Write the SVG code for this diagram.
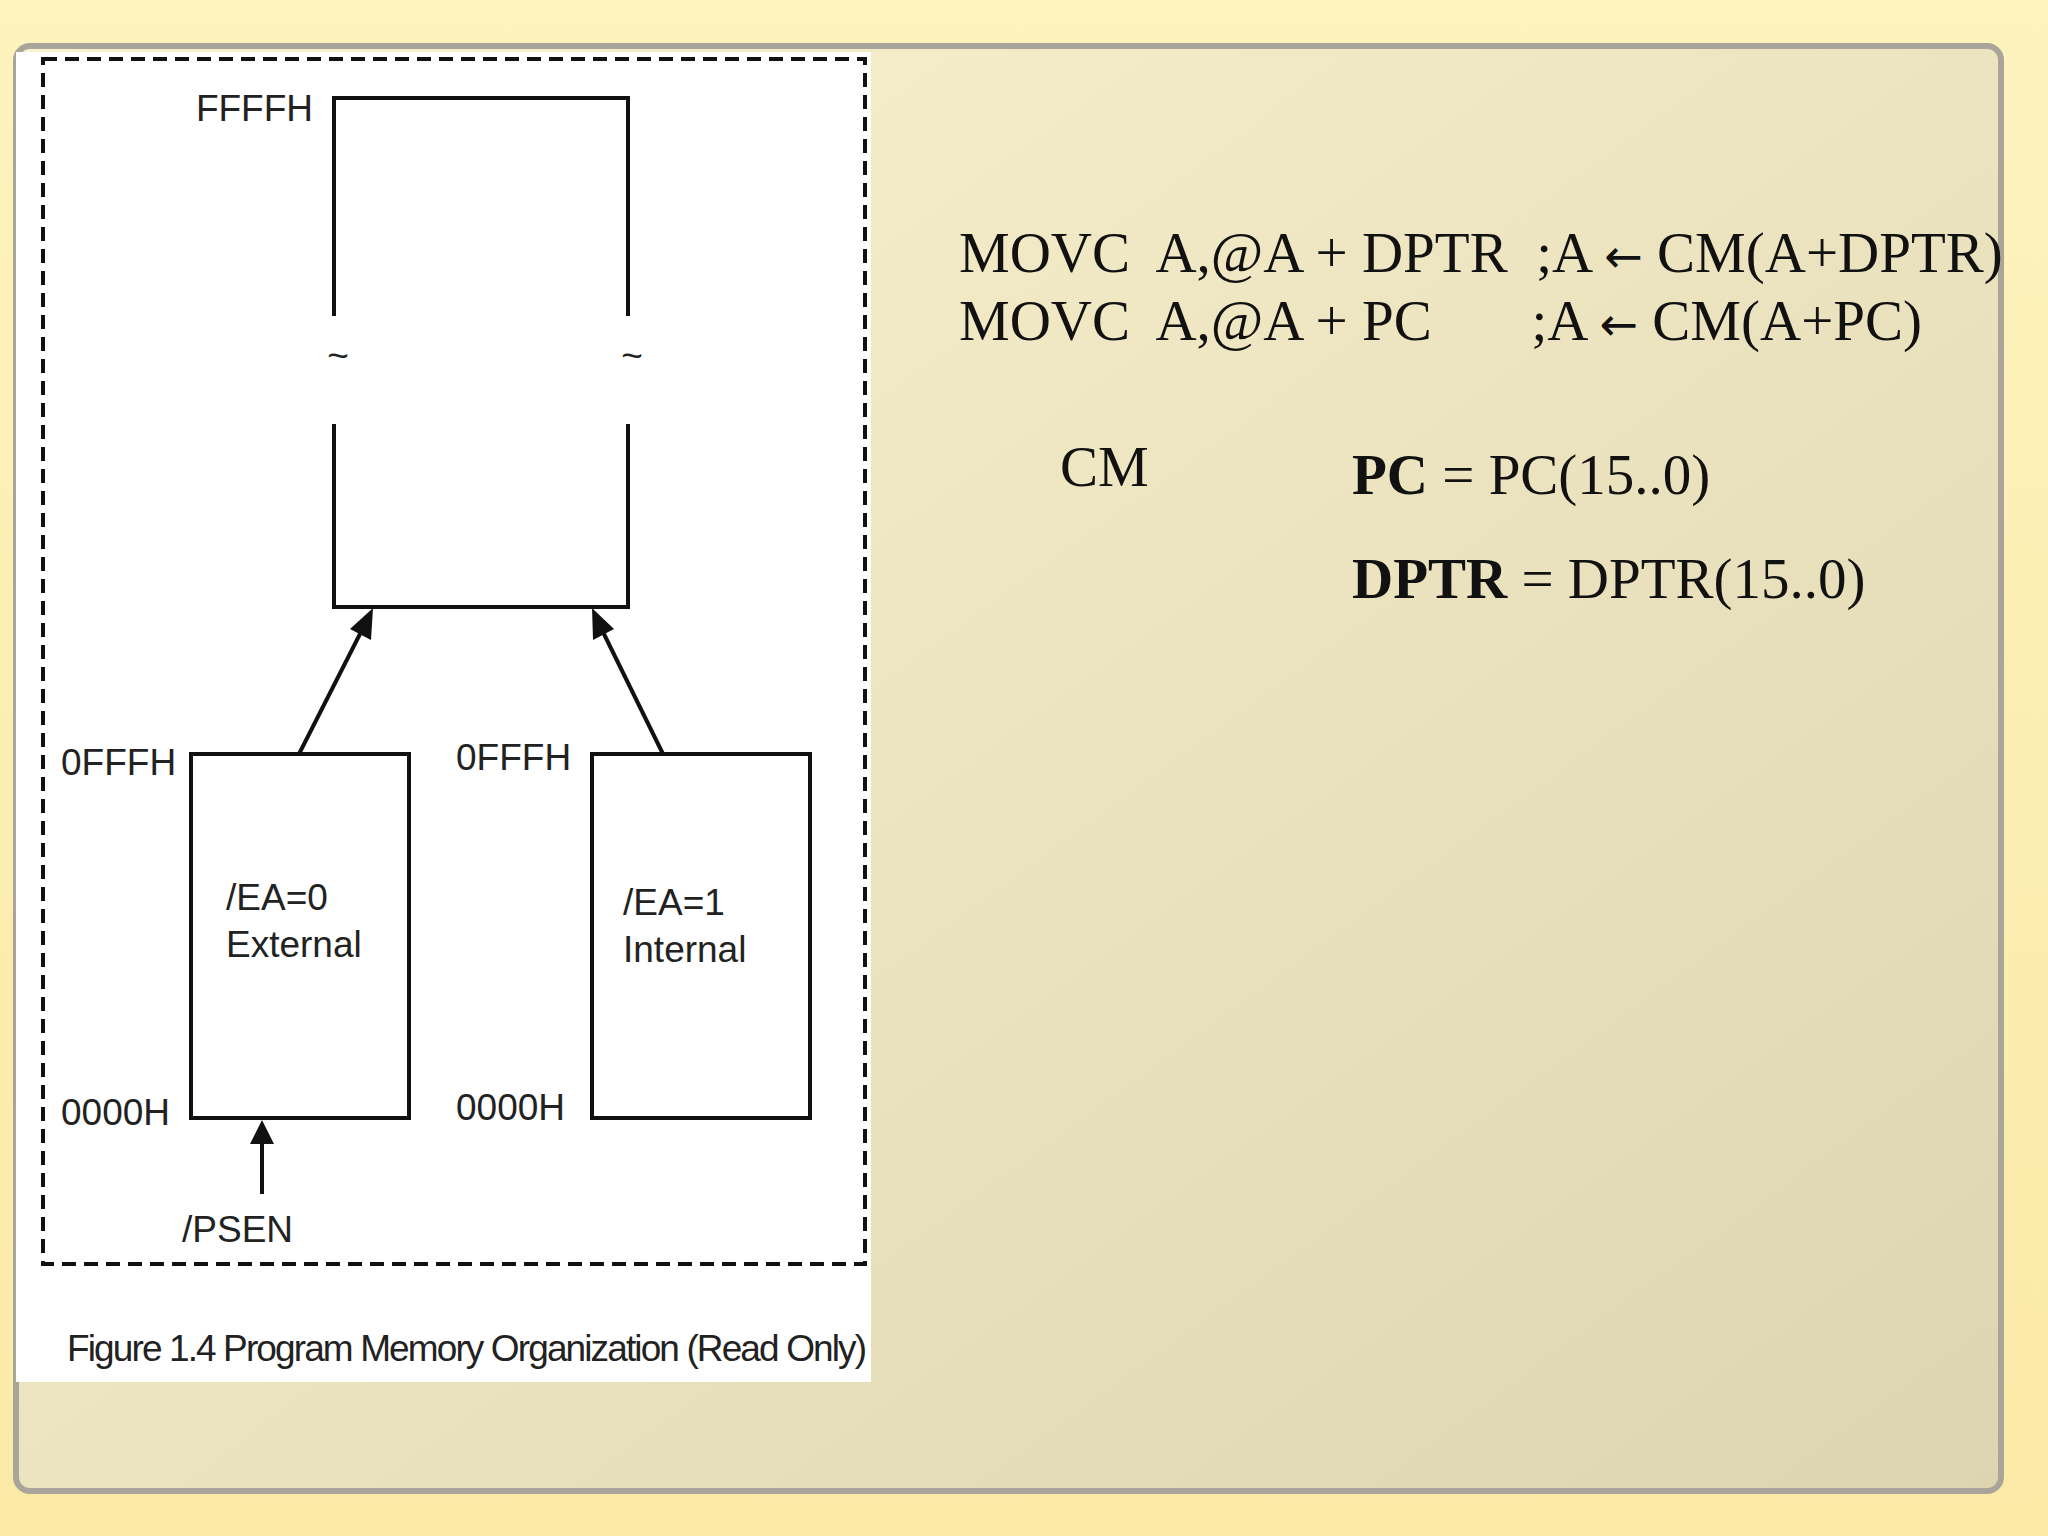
<svg xmlns="http://www.w3.org/2000/svg" width="2048" height="1536" viewBox="0 0 2048 1536">
<defs>
<linearGradient id="bg" x1="0" y1="0" x2="0" y2="1"><stop offset="0" stop-color="#fdf3bd"/><stop offset="1" stop-color="#fbe9a6"/></linearGradient>
<linearGradient id="panel" x1="0" y1="0" x2="1" y2="1"><stop offset="0" stop-color="#fbf3cf"/><stop offset="1" stop-color="#ddd5b0"/></linearGradient>
<style>
.s{font-family:"Liberation Sans",Arial,sans-serif;font-size:37px;fill:#222}
.t{font-family:"Liberation Serif","Times New Roman",serif;font-size:57px;fill:#111}
.ar{font-family:"DejaVu Sans",sans-serif;font-size:46px}
.ln{stroke:#111;stroke-width:4;fill:none}
.hd{fill:#111}
</style>
</defs>
<rect width="2048" height="1536" fill="url(#bg)"/>
<rect x="16" y="46" width="1985" height="1445" rx="14" fill="url(#panel)" stroke="#aaa59a" stroke-width="6"/>
<rect x="16" y="52" width="855" height="1330" fill="#fff"/>
<rect x="43" y="59" width="822" height="1205" fill="none" stroke="#111" stroke-width="4" stroke-dasharray="14,8"/>
<g id="top-box">
<path class="ln" d="M334,316 V98 H628 V316 M334,424 V607 H628 V424"/>
<text class="s" x="338" y="368" text-anchor="middle" font-size="28">~</text>
<text class="s" x="632" y="368" text-anchor="middle" font-size="28">~</text>
<text class="s" x="313" y="121" text-anchor="end">FFFFH</text>
</g>
<g id="ext">
<rect class="ln" x="191" y="754" width="218" height="364"/>
<text class="s" x="226" y="910">/EA=0</text>
<text class="s" x="226" y="957">External</text>
<text class="s" x="61" y="775">0FFFH</text>
<text class="s" x="61" y="1125">0000H</text>
</g>
<g id="int">
<rect class="ln" x="592" y="754" width="218" height="364"/>
<text class="s" x="623" y="915">/EA=1</text>
<text class="s" x="623" y="962">Internal</text>
<text class="s" x="456" y="770">0FFFH</text>
<text class="s" x="456" y="1120">0000H</text>
</g>
<g id="psen"><text class="s" x="182" y="1242">/PSEN</text></g>
<g id="connectors">
<line class="ln" x1="299" y1="754" x2="362" y2="630"/>
<polygon class="hd" points="373,608 371,640 350,629"/>
<line class="ln" x1="663" y1="754" x2="602" y2="630"/>
<polygon class="hd" points="592,608 614,629 593,640"/>
<line class="ln" x1="262" y1="1194" x2="262" y2="1140"/>
<polygon class="hd" points="262,1120 274,1144 250,1144"/>
</g>
<text class="s" x="67" y="1361" font-size="30" fill="#333" textLength="800">Figure 1.4  Program Memory Organization (Read Only)</text>
<text class="t" x="959" y="272" xml:space="preserve">MOVC  A,@A + DPTR  ;A <tspan class="ar">←</tspan> CM(A+DPTR)</text>
<text class="t" x="959" y="340" xml:space="preserve">MOVC  A,@A + PC       ;A <tspan class="ar">←</tspan> CM(A+PC)</text>
<text class="t" x="1060" y="486" font-size="65">CM</text>
<text class="t" x="1352" y="494"><tspan font-weight="bold">PC</tspan> = PC(15..0)</text>
<text class="t" x="1352" y="598"><tspan font-weight="bold">DPTR</tspan> = DPTR(15..0)</text>
</svg>
